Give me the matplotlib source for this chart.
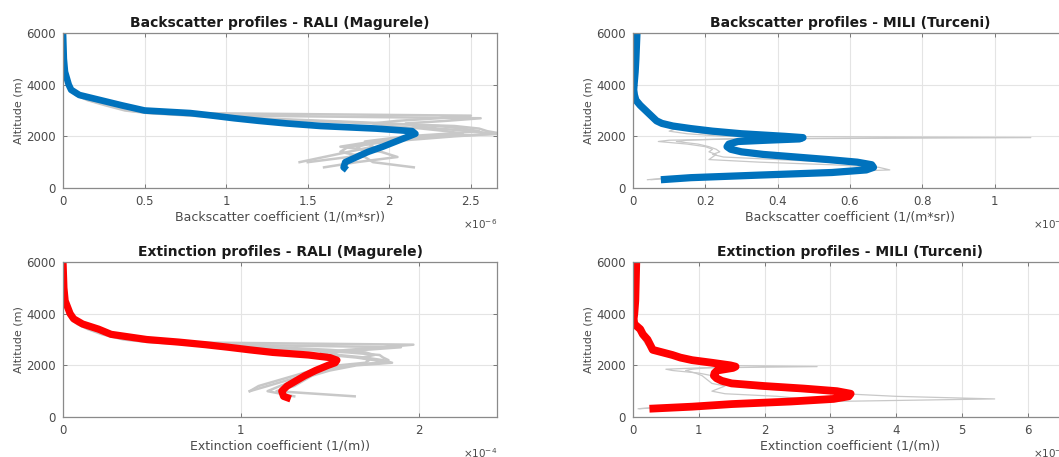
import numpy as np
import matplotlib
matplotlib.use('Agg')
import matplotlib.pyplot as plt

plt.rcParams['font.family'] = ['DejaVu Sans']

nan = np.nan

# altitude grid for RALI (Magurele) profiles, m
alt_rali = [6000, 5000, 4500, 4000, 3800, 3600, 3400, 3200, 3000, 2900, 2800, 2700, 2600,
            2500, 2400, 2300, 2200, 2100, 2000, 1800, 1600, 1400, 1200, 1000, 800, 700]

# RALI backscatter, x1e-6 1/(m*sr)
bsc_rali_mean = [0.0, 0.005, 0.012, 0.035, 0.05, 0.10, 0.23, 0.36, 0.50, 0.78, 0.92, 1.05, 1.2,
                 1.37, 1.58, 1.92, 2.14, 2.16, 2.12, 2.04, 1.96, 1.87, 1.80, 1.73, 1.72, 1.74]
bsc_rali_1 = [0.0, 0.004, 0.01, 0.03, 0.04, 0.08, 0.16, 0.28, 0.42, 0.80, 2.50, 2.30, 2.05,
              1.90, 2.00, 2.20, 2.35, 2.45, 2.20, 1.95, 1.80, 1.85, 1.75, 1.50, nan, nan]
bsc_rali_2 = [0.0, 0.006, 0.012, 0.035, 0.06, 0.10, 0.20, 0.32, 0.45, 0.60, 1.10, 2.56, 2.35,
              2.10, 2.15, 2.30, 2.50, 2.65, 2.40, 2.00, 1.75, 1.70, 1.85, 1.90, 2.15, nan]
bsc_rali_3 = [0.0, 0.005, 0.011, 0.03, 0.05, 0.09, 0.18, 0.30, 0.40, 0.55, 0.85, 1.20, 1.60,
              2.00, 2.30, 2.45, 2.55, 2.35, 2.10, 1.85, 1.90, 1.75, 1.60, 1.45, nan, nan]
bsc_rali_4 = [0.0, 0.005, 0.01, 0.028, 0.045, 0.08, 0.15, 0.26, 0.38, 0.52, 0.78, 1.10, 1.50,
              1.90, 2.40, 2.55, 2.60, 2.69, 2.30, 1.90, 1.70, 1.95, 2.05, 1.80, 1.60, nan]

# RALI extinction, x1e-4 1/m
ext_rali_mean = [0.0, 0.005, 0.012, 0.04, 0.06, 0.11, 0.20, 0.27, 0.47, 0.65, 0.80, 0.93, 1.05,
                 1.18, 1.38, 1.50, 1.54, 1.53, 1.49, 1.42, 1.36, 1.31, 1.26, 1.23, 1.24, 1.28]
ext_rali_1 = [0.0, 0.004, 0.01, 0.03, 0.05, 0.09, 0.16, 0.24, 0.36, 0.50, 1.97, 1.80, 1.60,
              1.45, 1.50, 1.65, 1.75, 1.80, 1.60, 1.45, 1.35, 1.25, 1.15, 1.05, nan, nan]
ext_rali_2 = [0.0, 0.006, 0.012, 0.035, 0.055, 0.10, 0.18, 0.26, 0.40, 0.55, 0.90, 1.90, 1.70,
              1.50, 1.55, 1.70, 1.80, 1.85, 1.65, 1.50, 1.40, 1.35, 1.30, 1.20, 1.64, nan]
ext_rali_3 = [0.0, 0.005, 0.011, 0.03, 0.05, 0.09, 0.17, 0.25, 0.38, 0.52, 0.80, 1.20, 1.50,
              1.70, 1.75, 1.68, 1.72, 1.70, 1.55, 1.40, 1.30, 1.20, 1.10, 1.05, nan, nan]
ext_rali_4 = [0.0, 0.005, 0.01, 0.028, 0.045, 0.08, 0.14, 0.22, 0.34, 0.48, 0.72, 1.00, 1.35,
              1.60, 1.78, 1.80, 1.83, 1.78, 1.60, 1.45, 1.35, 1.30, 1.22, 1.15, 1.30, nan]

# altitude grid for MILI (Turceni) profiles, m
alt_mili = [6000, 5000, 4500, 4000, 3800, 3600, 3400, 3200, 3000, 2800, 2600, 2500, 2400, 2300,
            2200, 2100, 2000, 1950, 1900, 1850, 1800, 1700, 1600, 1500, 1400, 1300, 1200, 1100,
            1000, 900, 800, 700, 600, 500, 400, 320]

# MILI backscatter, x1e-6 1/(m*sr)
bsc_mili_mean = [0.011, 0.008, 0.006, 0.003, 0.002, 0.004, 0.008, 0.02, 0.035, 0.05, 0.065, 0.08,
                 0.11, 0.16, 0.22, 0.30, 0.42, 0.47, 0.46, 0.37, 0.29, 0.265, 0.26, 0.27, 0.30,
                 0.36, 0.45, 0.54, 0.62, 0.66, 0.665, 0.645, 0.55, 0.35, 0.16, 0.077]
bsc_mili_1 = [0.01, 0.008, 0.005, 0.003, 0.003, 0.005, 0.01, 0.02, 0.03, 0.045, 0.06, 0.075,
              0.09, 0.12, 0.10, 0.15, 0.25, 1.10, 0.30, 0.10, 0.07, 0.15, 0.20, 0.22, 0.21,
              0.23, 0.22, 0.21, 0.35, 0.55, 0.68, 0.71, 0.50, 0.30, 0.12, 0.05]
bsc_mili_2 = [0.012, 0.009, 0.007, 0.004, 0.003, 0.004, 0.012, 0.025, 0.03, 0.04, 0.055, 0.07,
              0.10, 0.13, 0.16, 0.20, 0.30, 0.35, 0.25, 0.15, 0.12, 0.18, 0.21, 0.23, 0.24,
              0.22, 0.25, 0.40, 0.55, 0.62, 0.63, 0.60, 0.45, 0.25, 0.10, 0.04]

# MILI extinction, x1e-4 1/m
ext_mili_mean = [0.05, 0.04, 0.035, 0.02, 0.01, 0.02, 0.11, 0.15, 0.22, 0.26, 0.30, 0.45, 0.60,
                 0.72, 0.90, 1.20, 1.48, 1.56, 1.52, 1.40, 1.28, 1.24, 1.23, 1.27, 1.35, 1.50,
                 1.99, 2.60, 3.10, 3.31, 3.28, 3.05, 2.40, 1.50, 0.90, 0.25]
ext_mili_1 = [0.05, 0.04, 0.03, 0.02, 0.015, 0.02, 0.05, 0.10, 0.15, 0.20, 0.30, 0.40, 0.55,
              0.70, 0.80, 0.90, 1.20, 2.80, 1.00, 0.50, 0.60, 1.00, 1.20, 1.30, 1.40, 1.35,
              1.50, 1.90, 2.50, 3.20, 4.00, 5.50, 3.00, 1.50, 0.60, 0.10]
ext_mili_2 = [0.04, 0.03, 0.02, 0.015, 0.012, 0.02, 0.06, 0.12, 0.18, 0.25, 0.35, 0.45, 0.60,
              0.75, 0.85, 1.00, 1.30, 1.40, 1.10, 0.90, 0.80, 0.95, 1.05, 1.10, 1.15, 1.20,
              1.40, 1.30, 1.20, 1.40, 2.20, 2.60, 2.20, 1.20, 0.50, 0.08]

BLUE = '#0072BD'
RED = '#FF0000'
GREY = '#c8c8c8'


def style_axes(ax, title, xlabel, xlim, xticks, xticklabels, expo):
    ax.set_xlim(xlim)
    ax.set_ylim(0, 6000)
    ax.set_xticks(xticks)
    ax.set_xticklabels(xticklabels)
    ax.set_yticks([0, 2000, 4000, 6000])
    ax.grid(True, color='#e4e4e4', linewidth=0.8)
    ax.set_axisbelow(True)
    ax.tick_params(direction='in', length=3, width=0.6, top=True, right=True,
                   labelsize=8.5, labelcolor='#4a4a4a', color='#666666', pad=5)
    for s in ax.spines.values():
        s.set_color('#8a8a8a')
        s.set_linewidth(0.9)
    ax.set_title(title, fontsize=10, fontweight='bold', color='#1a1a1a', pad=4)
    ax.set_xlabel(xlabel, fontsize=9, color='#4a4a4a', labelpad=2)
    ax.set_ylabel('Altitude (m)', fontsize=8, color='#4a4a4a', labelpad=2)
    ax.text(1.0, -0.235, r'$\times10^{%d}$' % expo, transform=ax.transAxes,
            ha='right', va='center', fontsize=7.5, color='#4a4a4a')


fig = plt.figure(figsize=(10.59, 4.57), dpi=100)
W, H = 1059.0, 457.0
ax_w = 434 / W
ax_h = 155 / H
ax1 = fig.add_axes([63 / W, (H - 188) / H, ax_w, ax_h])
ax2 = fig.add_axes([633 / W, (H - 188) / H, ax_w, ax_h])
ax3 = fig.add_axes([63 / W, (H - 417) / H, ax_w, ax_h])
ax4 = fig.add_axes([633 / W, (H - 417) / H, ax_w, ax_h])

for g in [bsc_rali_1, bsc_rali_2, bsc_rali_3, bsc_rali_4]:
    ax1.plot(g, alt_rali, color=GREY, linewidth=1.8)
ax1.plot(bsc_rali_mean, alt_rali, color=BLUE, linewidth=4.8, solid_capstyle='butt')
style_axes(ax1, 'Backscatter profiles - RALI (Magurele)', 'Backscatter coefficient (1/(m*sr))',
           (0, 2.66), [0, 0.5, 1, 1.5, 2, 2.5], ['0', '0.5', '1', '1.5', '2', '2.5'], -6)

for g in [bsc_mili_1, bsc_mili_2]:
    ax2.plot(g, alt_mili, color=GREY, linewidth=0.9)
ax2.plot(bsc_mili_mean, alt_mili, color=BLUE, linewidth=5.2, solid_capstyle='butt')
style_axes(ax2, 'Backscatter profiles - MILI (Turceni)', 'Backscatter coefficient (1/(m*sr))',
           (0, 1.2), [0, 0.2, 0.4, 0.6, 0.8, 1.0, 1.2], ['0', '0.2', '0.4', '0.6', '0.8', '1', '1.2'], -6)

for g in [ext_rali_1, ext_rali_2, ext_rali_3, ext_rali_4]:
    ax3.plot(g, alt_rali, color=GREY, linewidth=1.8)
ax3.plot(ext_rali_mean, alt_rali, color=RED, linewidth=5.2, solid_capstyle='butt')
style_axes(ax3, 'Extinction profiles - RALI (Magurele)', 'Extinction coefficient (1/(m))',
           (0, 2.44), [0, 1, 2], ['0', '1', '2'], -4)

for g in [ext_mili_1, ext_mili_2]:
    ax4.plot(g, alt_mili, color=GREY, linewidth=0.9)
ax4.plot(ext_mili_mean, alt_mili, color=RED, linewidth=5.6, solid_capstyle='butt')
style_axes(ax4, 'Extinction profiles - MILI (Turceni)', 'Extinction coefficient (1/(m))',
           (0, 6.6), [0, 1, 2, 3, 4, 5, 6], ['0', '1', '2', '3', '4', '5', '6'], -4)

fig.savefig('out.png', dpi=100)
